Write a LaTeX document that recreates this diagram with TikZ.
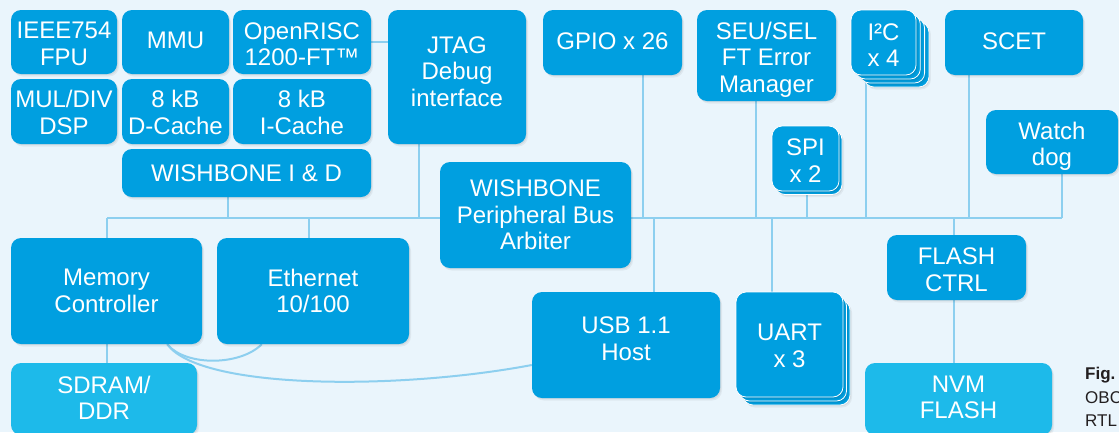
\documentclass[tikz,border=0pt]{standalone}
\usepackage{fontspec}
\setmainfont{Liberation Sans}
\usetikzlibrary{calc}

\definecolor{pagebg}{HTML}{EAF5FC}
\definecolor{unitblue}{HTML}{009FE0}
\definecolor{unitlight}{HTML}{1DBAEA}
\definecolor{wirecol}{HTML}{8DCFEF}
\definecolor{captxt}{HTML}{231F20}

\pgfdeclarelayer{back}
\pgfsetlayers{back,main}

\tikzset{
  softshadow/.style={
    preaction={fill=black, fill opacity=0.05,
      transform canvas={shift={(2pt,-2.5pt)}}},
    preaction={fill=black, fill opacity=0.06,
      transform canvas={shift={(1pt,-1.2pt)}}}},
  shell/.style={rectangle, rounded corners=10pt, fill=unitblue, inner sep=0pt,
      softshadow},
  stackfront/.style={draw=white, line width=0.8pt},
  stacklayer/.style={fill=unitblue, draw=white, line width=0.8pt,
      rounded corners=10pt, softshadow},
  unittext/.style={text=white, align=center, inner sep=0pt,
      font=\fontsize{24}{26.5}\selectfont},
  wire/.style={draw=wirecol, line width=2pt},
  caption/.style={anchor=base west, inner sep=0pt, text=captxt,
      font=\fontsize{17}{20}\selectfont},
}

% \unitbox[extra style]{name}{x1}{y1}{x2}{y2}{text shift}{text}
\newcommand{\unitbox}[8][]{%
  \node[shell,#1,minimum width={(#5)-(#3)},minimum height={(#6)-(#4)}]
    (#2) at ({((#3)+(#5))/2},{((#4)+(#6))/2}) {};
  \node[unittext] (#2-t) at ($(#2.center)+(0,#7)$) {#8};
}

\begin{document}
\begin{tikzpicture}[x=1pt,y=-1pt]
\useasboundingbox (0,0) rectangle (1119,432);
\begin{pgfonlayer}{back}
  \fill[pagebg] (0,0) rectangle (1119,432);
\end{pgfonlayer}

% processor core
\unitbox{fpu}{11}{10}{117}{74}{2}{IEEE754\\FPU}
\unitbox{mmu}{122}{10}{229}{74}{-2}{MMU}
\unitbox{orisc}{233}{10}{371}{74}{2}{OpenRISC\\1200-FT™}
\unitbox{muldiv}{11}{79}{117}{144}{1}{MUL/DIV\\DSP}
\unitbox{dcache}{122}{79}{229}{144}{1}{8 kB\\D-Cache}
\unitbox{icache}{233}{79}{371}{144}{1}{8 kB\\I-Cache}
\unitbox{wbid}{122}{149}{371}{197}{0}{WISHBONE I \& D}

% debug and peripherals above the bus
\unitbox{jtag}{388}{10}{526}{144}{-5.5}{JTAG\\Debug\\interface}
\unitbox{gpio}{543}{10}{682}{75}{-1.5}{GPIO x 26}
\unitbox{seu}{697}{10}{836}{101}{4}{SEU/SEL\\FT Error\\Manager}
\foreach \k in {3,2,1}
  \draw[stacklayer] ({851+4.3*\k},{10+4*\k}) rectangle ({916+4.3*\k},{75+4*\k});
\unitbox[stackfront]{i2c}{851}{10}{916}{75}{2.5}{I²C\\x 4}
\unitbox{scet}{945}{10}{1083}{75}{-1.5}{SCET}
\unitbox{wdog}{986}{110}{1118}{174}{4.5}{Watch\\dog}
\draw[stacklayer] (775,129.5) rectangle (842,194.5);
\unitbox[stackfront]{spi}{772}{126}{839}{191}{2}{SPI\\x 2}

% bus arbiter
\unitbox{arb}{440}{162}{631}{268}{0}{WISHBONE\\Peripheral Bus\\Arbiter}

% peripherals below the bus
\unitbox{mem}{11}{238}{202}{344}{0}{Memory\\Controller}
\unitbox{eth}{217}{238}{409}{344}{0}{Ethernet\\10/100}
\unitbox{usb}{532}{292}{720}{398}{-6.5}{USB 1.1\\Host}
\foreach \k in {2,1}
  \draw[stacklayer] ({736+3.5*\k},{292+4*\k}) rectangle ({843+3.5*\k},{397+4*\k});
\unitbox[stackfront]{uart}{736}{292}{843}{397}{1.5}{UART\\x 3}
\unitbox{fctl}{887}{235}{1026}{300}{2}{FLASH\\CTRL}
\unitbox[fill=unitlight]{sdram}{11}{363}{197}{435}{-1}{SDRAM/\\DDR}
\unitbox[fill=unitlight]{nvm}{865}{363}{1052}{435}{-1.5}{NVM\\FLASH}

% caption fragment at the right edge
\node[caption,font=\fontsize{17}{20}\selectfont\bfseries] (capfig) at (1085,379) {Fig.};
\node[caption] (capobc) at (1085,403) {OBC};
\node[caption] (caprtl) at (1085,426) {RTL};

% bus taps
\coordinate (tMC) at (107,218);
\coordinate (tWB) at (228,218);
\coordinate (tET) at (309,218);
\coordinate (tJT) at (419,218);
\coordinate (tGP) at (643,218);
\coordinate (tUS) at (654,218);
\coordinate (tSE) at (756,218);
\coordinate (tUA) at (772,218);
\coordinate (tSP) at (807,218);
\coordinate (tIC) at (866,218);
\coordinate (tFC) at (954,218);
\coordinate (tSC) at (969,218);
\coordinate (tWD) at (1062,218);

\coordinate (memtap) at ($(mem.south east)+(-35,0)$);
\coordinate (ethtap) at ($(eth.south west)+(45,0)$);
\coordinate (usbtap) at ($(usb.west)+(0,20)$);

\begin{pgfonlayer}{back}
  % peripheral bus
  \draw[wire] (tMC) -- (tWD);
  \draw[wire] (tWB) -- (tWB |- wbid.south);
  \draw[wire] (tJT) -- (tJT |- jtag.south);
  \draw[wire] (tGP) -- (tGP |- gpio.south);
  \draw[wire] (tSE) -- (tSE |- seu.south);
  \draw[wire] (tSP) -- (tSP |- spi.south);
  \draw[wire] (tIC) -- (tIC |- i2c.south);
  \draw[wire] (tSC) -- (tSC |- scet.south);
  \draw[wire] (tWD) -- (tWD |- wdog.south);
  \draw[wire] (tMC) -- (tMC |- mem.north);
  \draw[wire] (tET) -- (tET |- eth.north);
  \draw[wire] (tUS) -- (tUS |- usb.north);
  \draw[wire] (tUA) -- (tUA |- uart.north);
  \draw[wire] (tFC) -- (tFC |- fctl.north);
  % point-to-point links
  \draw[wire] (orisc.east) -- (orisc.east -| jtag.west);
  \draw[wire] (mem.south) -- (mem.south |- sdram.north);
  \draw[wire] (tFC |- fctl.south) -- (tFC |- nvm.north);
  % external pad sharing
  \draw[wire] (memtap) .. controls +(18,22) and +(-22,22) .. (ethtap);
  \draw[wire] (memtap) .. controls +(33,46) and +(-132,25) .. (usbtap);
\end{pgfonlayer}
\end{tikzpicture}
\end{document}
